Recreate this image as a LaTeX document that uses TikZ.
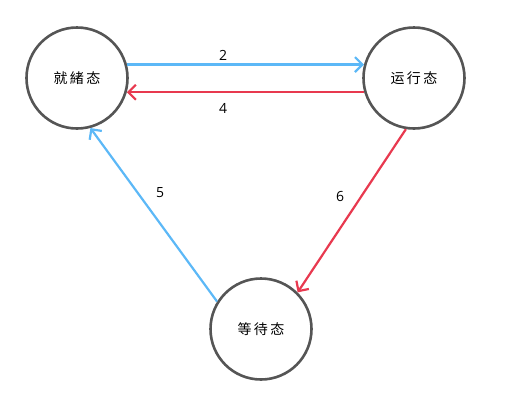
\documentclass[tikz,border=0pt]{standalone}
\usepackage{fontspec}
\setmainfont{Open Sans}
\newfontfamily\cjk{Noto Sans CJK SC}
\usetikzlibrary{arrows.meta}
\definecolor{stategray}{HTML}{555555}
\definecolor{flowblue}{HTML}{5CB8F7}
\definecolor{flowred}{HTML}{E8394F}
\tikzset{
  state/.style={circle, draw=stategray, line width=2.6pt, minimum size=101pt, inner sep=0pt,
    font=\cjk\fontsize{14}{15}\selectfont},
  flow/.style={line width=2.2pt, -{Straight Barb[length=7.5pt,width=15pt,line width=2.2pt]}},
  bflow/.style={flow, draw=flowblue},
  rflow/.style={flow, draw=flowred},
  num/.style={font=\fontsize{14}{15}\selectfont, text=black, inner sep=1pt}
}
\begin{document}
\begin{tikzpicture}[x=1pt,y=-1pt]
\useasboundingbox (0,0) rectangle (524,402);
\node[state] (ready) at (77,78) {就\,緒\,态};
\node[state] (run) at (414,78) {运\,行\,态};
\node[state] (wait) at (261,329) {等\,待\,态};
\draw[bflow] (ready.15) -- (run.165);
\draw[rflow] (run.-164) -- (ready.-16);
\draw[bflow] (wait.148) -- (ready.-75);
\draw[rflow] (run.-99) -- (wait.45);
\node[num] (l2) at (223,55) {2};
\node[num] (l4) at (223,108) {4};
\node[num] (l5) at (160,193) {5};
\node[num] (l6) at (340,196) {6};
\end{tikzpicture}
\end{document}
